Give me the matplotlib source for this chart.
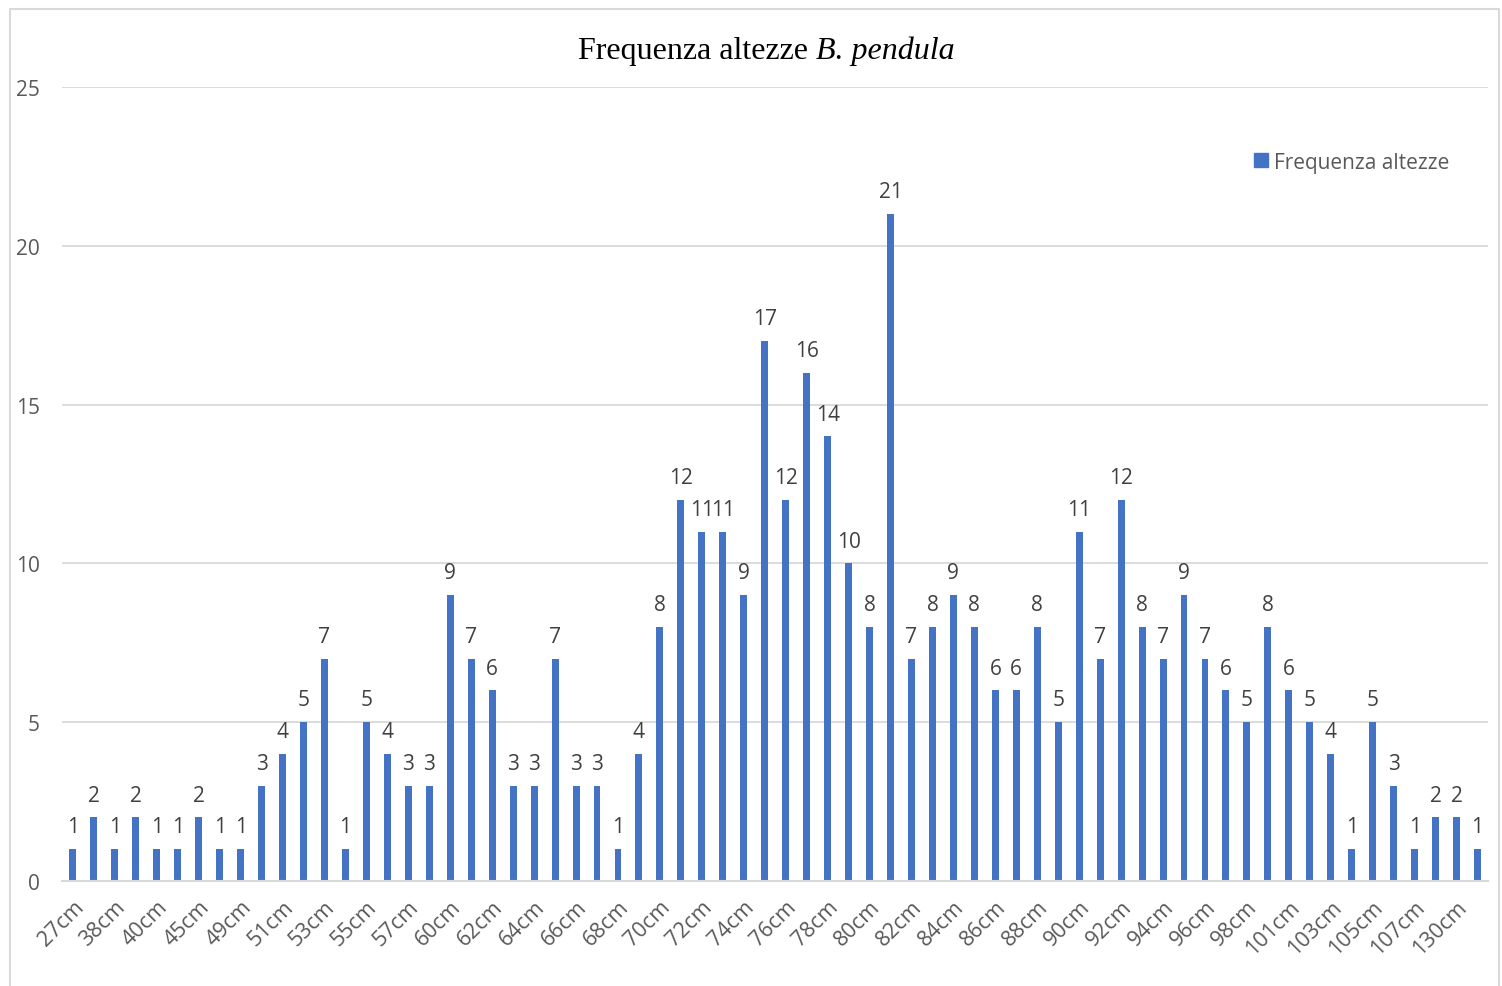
import matplotlib
matplotlib.use("Agg")
import matplotlib.pyplot as plt
from matplotlib.lines import Line2D
from matplotlib.patches import Patch
import numpy as np

# Height classes (every other class gets a visible tick label)
heights = [
    "27cm", "35cm", "38cm", "39cm", "40cm", "43cm", "45cm", "47cm", "49cm", "50cm",
    "51cm", "52cm", "53cm", "54cm", "55cm", "56cm", "57cm", "58cm", "60cm", "61cm",
    "62cm", "63cm", "64cm", "65cm", "66cm", "67cm", "68cm", "69cm", "70cm", "71cm",
    "72cm", "73cm", "74cm", "75cm", "76cm", "77cm", "78cm", "79cm", "80cm", "81cm",
    "82cm", "83cm", "84cm", "85cm", "86cm", "87cm", "88cm", "89cm", "90cm", "91cm",
    "92cm", "93cm", "94cm", "95cm", "96cm", "97cm", "98cm", "100cm", "101cm", "102cm",
    "103cm", "104cm", "105cm", "106cm", "107cm", "110cm", "130cm", "135cm",
]
counts = [
    1, 2, 1, 2, 1, 1, 2, 1, 1, 3,
    4, 5, 7, 1, 5, 4, 3, 3, 9, 7,
    6, 3, 3, 7, 3, 3, 1, 4, 8, 12,
    11, 11, 9, 17, 12, 16, 14, 10, 8, 21,
    7, 8, 9, 8, 6, 6, 8, 5, 11, 7,
    12, 8, 7, 9, 7, 6, 5, 8, 6, 5,
    4, 1, 5, 3, 1, 2, 2, 1,
]
series_name = "Frequenza altezze"
y_ticks = [0, 5, 10, 15, 20, 25]

BAR = "#4472C4"
GRID = "#D9D9D9"
TXT = "#595959"
SANS = ["Open Sans", "DejaVu Sans"]
SERIF = ["Liberation Serif", "DejaVu Serif"]

W, H = 1502, 987
fig = plt.figure(figsize=(W / 100, H / 100), dpi=100)
fig.patch.set_facecolor("white")

# Chart-area frame
frame = Line2D([10 / W, 10 / W, 1499 / W, 1499 / W], [0, 1 - 10 / H, 1 - 10 / H, 0],
               transform=fig.transFigure, color=GRID, lw=1.5)
fig.add_artist(frame)

ax = fig.add_axes([62 / W, 1 - 882 / H, (1488 - 62) / W, (882 - 88) / H])
x = np.arange(len(heights))
bars = ax.bar(x, counts, width=0.33, color=BAR, zorder=3)

ax.set_xlim(-0.52, len(heights) - 0.5)
ax.set_ylim(0, 25)
ax.set_yticks(y_ticks)
ax.set_yticklabels([str(v) for v in y_ticks], family=SANS, fontsize=15, color=TXT)
ax.set_xticks(x[::2])
ax.set_xticklabels(heights[::2], family=SANS, fontsize=15.5, color=TXT,
                   rotation=45, ha="right", rotation_mode="anchor")
ax.tick_params(axis="both", length=0)
ax.tick_params(axis="y", pad=16)
ax.tick_params(axis="x", pad=11)
ax.yaxis.grid(True, color=GRID, lw=1.3, zorder=0)
for s in ["top", "right", "left"]:
    ax.spines[s].set_visible(False)
ax.spines["bottom"].set_color(GRID)
ax.spines["bottom"].set_linewidth(1.5)
ax.spines["bottom"].set_zorder(4)

for xi, v in zip(x, counts):
    ax.annotate(str(v), (xi, v), xytext=(0, 8.5), textcoords="offset points",
                ha="center", va="bottom", family=SANS, fontsize=15, color="#404040")

# Title: plain part plus italic species name, centred as one line
fig.canvas.draw()
r = fig.canvas.get_renderer()
t1 = fig.text(0, 1 - 51 / H, "Frequenza altezze ", family=SERIF, fontsize=23,
              va="center", ha="left", color="black")
t2 = fig.text(0, 1 - 51 / H, "B. pendula", family=SERIF, fontsize=23, style="italic",
              va="center", ha="left", color="black")
w1 = t1.get_window_extent(r).width
w2 = t2.get_window_extent(r).width
cx = 766
start = cx - (w1 + w2) / 2
t1.set_x(start / W)
t2.set_x((start + w1) / W)

# Legend
handle = Patch(facecolor=BAR, edgecolor=BAR)
leg = fig.legend([handle], [series_name], loc="center left",
                 bbox_to_anchor=(1244 / W, 1 - 163 / H), bbox_transform=fig.transFigure,
                 frameon=False, handlelength=0.65, handleheight=0.65, handletextpad=0.3,
                 borderpad=0, prop={"family": SANS, "size": 15})
for t in leg.get_texts():
    t.set_color(TXT)

fig.savefig("out.png", dpi=100)
